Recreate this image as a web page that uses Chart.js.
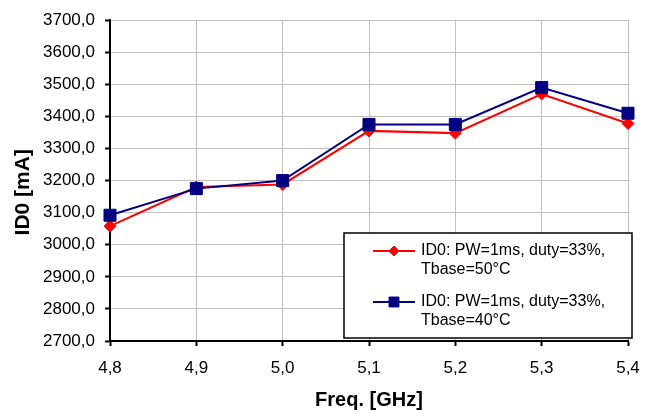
<!DOCTYPE html>
<html>
<head>
<meta charset="utf-8">
<script src="https://cdn.jsdelivr.net/npm/chart.js@4/dist/chart.umd.min.js"></script>
<style>
  body { margin: 0; background: #ffffff; }
</style>
</head>
<body>
<canvas id="myChart" width="654" height="416"></canvas>
<script>
// data
freqs = [4.8, 4.9, 5.0, 5.1, 5.2, 5.3, 5.4];
id0Base50 = [3058, 3180, 3188, 3355, 3348, 3470, 3378];
id0Base40 = [3092, 3175, 3200, 3375, 3375, 3490, 3410];
yTicks = { min: 2700, max: 3700, step: 100 };

labels = freqs.map(function (f) { return f.toFixed(1).replace('.', ','); });

function commaNumber(v) {
  return Number(v).toFixed(1).replace('.', ',');
}

// legend box inside the plot, lower right
const boxLegend = {
  id: 'boxLegend',
  afterDatasetsDraw(chart) {
    const ctx = chart.ctx;
    const area = chart.chartArea;
    const x0 = area.right - 284;
    const y0 = area.bottom - 108;
    const w = 288, h = 105;
    ctx.save();
    ctx.fillStyle = '#ffffff';
    ctx.fillRect(x0, y0, w, h);
    ctx.strokeStyle = '#000000';
    ctx.lineWidth = 1.5;
    ctx.strokeRect(x0, y0, w, h);

    const order = [0, 1];
    order.forEach(function (di, i) {
      const ds = chart.data.datasets[di];
      const cy = y0 + 18 + i * 51;
      ctx.strokeStyle = ds.borderColor;
      ctx.lineWidth = ds.borderWidth;
      ctx.beginPath();
      ctx.moveTo(x0 + 29, cy);
      ctx.lineTo(x0 + 71, cy);
      ctx.stroke();
      ctx.fillStyle = ds.pointBackgroundColor;
      ctx.strokeStyle = ds.pointBorderColor;
      ctx.lineWidth = 1;
      Chart.helpers.drawPoint(ctx, {
        pointStyle: ds.pointStyle,
        radius: ds.pointStyle === 'rect' ? 7 : 5,
        rotation: 0,
        borderWidth: 1
      }, x0 + 50, cy);

      ctx.fillStyle = '#000000';
      ctx.font = '16px "Liberation Sans", Arial, sans-serif';
      ctx.textBaseline = 'middle';
      ctx.textAlign = 'left';
      ds.label.split('\n').forEach(function (line, k) {
        ctx.fillText(line, x0 + 77, cy + k * 19);
      });
    });
    ctx.restore();
  }
};

const data = {
  labels: labels,
  datasets: [{
    label: 'ID0: PW=1ms, duty=33%,\nTbase=50°C',
    data: id0Base50,
    borderColor: '#ff0000',
    backgroundColor: '#ff0000',
    pointBackgroundColor: '#ff0000',
    pointBorderColor: '#ff0000',
    borderWidth: 2,
    pointStyle: 'rectRot',
    pointRadius: 6,
    pointBorderWidth: 1,
    tension: 0,
    order: 1
  }, {
    label: 'ID0: PW=1ms, duty=33%,\nTbase=40°C',
    data: id0Base40,
    borderColor: '#000080',
    backgroundColor: '#000080',
    pointBackgroundColor: '#000080',
    pointBorderColor: '#000080',
    borderWidth: 2,
    pointStyle: 'rect',
    pointRadius: 8.5,
    pointBorderWidth: 1,
    tension: 0,
    order: 0
  }]
};

const config = {
  type: 'line',
  data: data,
  options: {
    responsive: false,
    animation: false,
    devicePixelRatio: 1,
    layout: {
      padding: { top: 17, right: 26, bottom: 0, left: 0 }
    },
    plugins: {
      legend: { display: false },
      tooltip: { enabled: false }
    },
    scales: {
      x: {
        type: 'category',
        offset: false,
        afterFit: function (scale) { scale.height = 75; },
        grid: {
          color: '#c0c0c0',
          lineWidth: 1,
          drawTicks: true,
          tickLength: 5,
          tickColor: '#000000',
          tickWidth: 2
        },
        border: { color: '#000000', width: 2 },
        ticks: {
          color: '#000000',
          padding: 12,
          maxRotation: 0,
          font: { family: '"Liberation Sans", Arial, sans-serif', size: 17 }
        },
        title: {
          display: true,
          text: 'Freq. [GHz]',
          color: '#000000',
          padding: { top: 0, bottom: 4 },
          font: { family: '"Liberation Sans", Arial, sans-serif', size: 20, weight: 'bold' }
        }
      },
      y: {
        min: yTicks.min,
        max: yTicks.max,
        afterFit: function (scale) { scale.width = 110; },
        grid: {
          color: '#c0c0c0',
          lineWidth: 1,
          drawTicks: true,
          tickLength: 5,
          tickColor: '#000000',
          tickWidth: 2
        },
        border: { color: '#000000', width: 2 },
        ticks: {
          stepSize: yTicks.step,
          color: '#000000',
          padding: 10,
          callback: commaNumber,
          font: { family: '"Liberation Sans", Arial, sans-serif', size: 17 }
        },
        title: {
          display: true,
          // trailing spaces push the title a little down, as in the picture
          text: 'ID0 [mA]    ',
          color: '#000000',
          padding: { top: 11, bottom: 0 },
          font: { family: '"Liberation Sans", Arial, sans-serif', size: 21, weight: 'bold' }
        }
      }
    }
  },
  plugins: [boxLegend]
};

const myChart = new Chart(
  document.getElementById('myChart'),
  config
);
</script>
</body>
</html>
